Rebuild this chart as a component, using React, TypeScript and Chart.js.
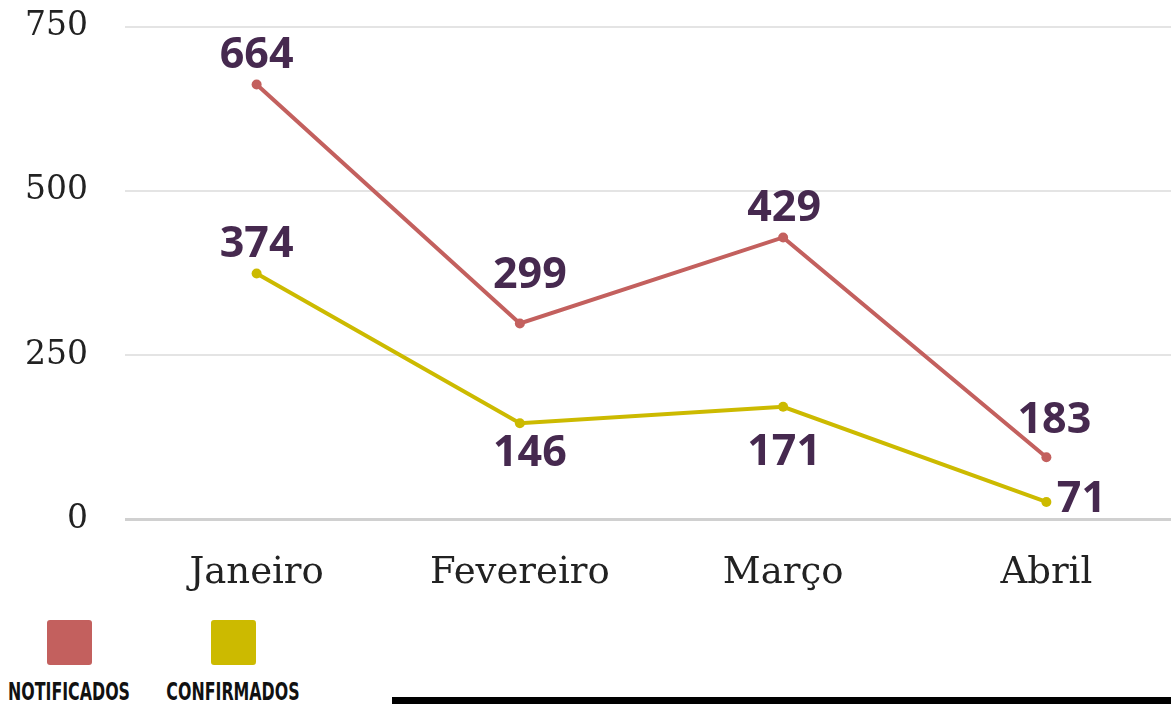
import React, { useEffect, useRef } from "react";
import { Chart, registerables } from "chart.js";

Chart.register(...registerables);

const months = ["Janeiro", "Fevereiro", "Março", "Abril"];
const notificados = [662, 298, 429, 94];
const confirmados = [374, 146, 171, 26];
const notificadosLabels = ["664", "299", "429", "183"];
const confirmadosLabels = ["374", "146", "171", "71"];
const yTicks = [0, 250, 500, 750];

const RED = "#c3605e";
const YELLOW = "#ccba00";
const LABEL_COLOR = "#46294f";

// label offsets relative to points (dx, dy)
const labelOffsets = [
  [[0, -29], [10, -48], [1, -29], [8, -37]],
  [[0, -29], [10, 31], [1, 46], [35, -2]],
];

const valueLabelPlugin = {
  id: "valueLabels",
  afterDatasetsDraw(chart: any) {
    const ctx = chart.ctx;
    const texts = [notificadosLabels, confirmadosLabels];
    ctx.save();
    ctx.font = "bold 43px 'Open Sans'";
    ctx.fillStyle = LABEL_COLOR;
    ctx.textAlign = "center";
    ctx.textBaseline = "middle";
    chart.data.datasets.forEach((_: any, di: number) => {
      const meta = chart.getDatasetMeta(di);
      meta.data.forEach((pt: any, i: number) => {
        const [dx, dy] = labelOffsets[di][i];
        ctx.fillText(texts[di][i], pt.x + dx, pt.y + dy);
      });
    });
    ctx.restore();
  },
};

const legendText: React.CSSProperties = {
  position: "absolute",
  top: 680,
  transform: "translateX(-50%) scale(0.8, 1.1)",
  fontFamily: "'DejaVu Sans Condensed', 'DejaVu Sans'",
  fontWeight: "bold",
  fontSize: 22,
  lineHeight: "24px",
  color: "#111",
  whiteSpace: "nowrap",
};

export default function App() {
  const ref = useRef<HTMLCanvasElement>(null);
  useEffect(() => {
    if (!ref.current) return;
    const chart = new Chart(ref.current, {
      type: "line",
      data: {
        labels: months,
        datasets: [
          {
            label: "NOTIFICADOS",
            data: notificados,
            borderColor: RED,
            backgroundColor: RED,
            borderWidth: 4,
            pointRadius: 5,
            pointBackgroundColor: RED,
            pointBorderWidth: 0,
            tension: 0,
          },
          {
            label: "CONFIRMADOS",
            data: confirmados,
            borderColor: YELLOW,
            backgroundColor: YELLOW,
            borderWidth: 4,
            pointRadius: 5,
            pointBackgroundColor: YELLOW,
            pointBorderWidth: 0,
            tension: 0,
          },
        ],
      },
      options: {
        animation: false,
        responsive: false,
        maintainAspectRatio: false,
        layout: { padding: { top: 0, left: 0, right: 0, bottom: 0 } },
        plugins: { legend: { display: false }, tooltip: { enabled: false } },
        scales: {
          x: {
            offset: true,
            grid: { display: false },
            border: { display: false },
            ticks: {
              padding: 24,
              color: "#222",
              font: { family: "'DejaVu Serif'", size: 37 },
            },
            afterFit: (s: any) => {
              s.height = 81;
            },
          },
          y: {
            min: 0,
            max: 750,
            afterBuildTicks: (s: any) => {
              s.ticks = yTicks.map((v) => ({ value: v }));
            },
            grid: {
              drawTicks: false,
              color: (c: any) => (c.tick && c.tick.value === 0 ? "#d0d0d0" : "#e4e4e4"),
              lineWidth: (c: any) => (c.tick && c.tick.value === 0 ? 3 : 2),
            },
            border: { display: false },
            ticks: {
              padding: 37,
              color: "#222",
              font: { family: "'DejaVu Serif'", size: 33 },
            },
            afterFit: (s: any) => {
              s.width = 125;
            },
          },
        },
      },
      plugins: [valueLabelPlugin],
    });
    return () => chart.destroy();
  }, []);

  return (
    <div style={{ position: "fixed", left: 0, top: 0, width: 1183, height: 704, overflow: "hidden", background: "#fff" }}>
      <canvas ref={ref} width={1183} height={630} style={{ position: "absolute", left: 0, top: -30 }} />
      <div style={{ position: "absolute", left: 47, top: 620, width: 45, height: 45, background: RED, borderRadius: 3 }} />
      <div style={{ position: "absolute", left: 211, top: 620, width: 45, height: 45, background: YELLOW, borderRadius: 3 }} />
      <div style={{ ...legendText, left: 69 }}>NOTIFICADOS</div>
      <div style={{ ...legendText, left: 233 }}>CONFIRMADOS</div>
      <div style={{ position: "absolute", left: 392, top: 697, width: 800, height: 7, background: "#000" }} />
    </div>
  );
}
